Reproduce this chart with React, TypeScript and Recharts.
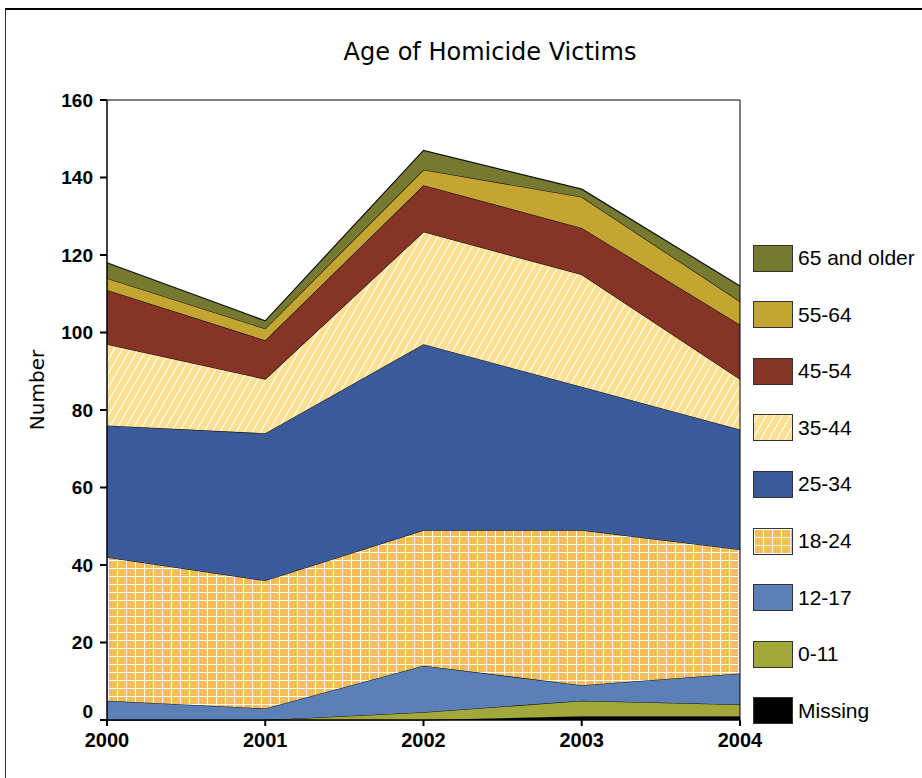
import React from 'react';
import { AreaChart, Area, XAxis, YAxis, ReferenceArea } from 'recharts';

const YEARS = [2000, 2001, 2002, 2003, 2004];

// counts per age group (stacked bottom to top)
const MISSING = [0, 0, 0, 1, 1];
const AGE_0_11 = [0, 0, 2, 4, 3];
const AGE_12_17 = [5, 3, 12, 4, 8];
const AGE_18_24 = [37, 33, 35, 40, 32];
const AGE_25_34 = [34, 38, 48, 37, 31];
const AGE_35_44 = [21, 14, 29, 29, 13];
const AGE_45_54 = [14, 10, 12, 12, 14];
const AGE_55_64 = [3, 3, 4, 8, 6];
const AGE_65_UP = [4, 2, 5, 2, 4];

const Y_TICKS = [0, 20, 40, 60, 80, 100, 120, 140, 160];

const SERIES = [
  { key: 'missing', name: 'Missing', values: MISSING, fill: '#000000' },
  { key: 'a0', name: '0-11', values: AGE_0_11, fill: '#a3a83b' },
  { key: 'a12', name: '12-17', values: AGE_12_17, fill: '#5b80b7' },
  { key: 'a18', name: '18-24', values: AGE_18_24, fill: 'url(#grid)', swatch: 'grid' },
  { key: 'a25', name: '25-34', values: AGE_25_34, fill: '#3a5a9a' },
  { key: 'a35', name: '35-44', values: AGE_35_44, fill: 'url(#hatch)', swatch: 'hatch' },
  { key: 'a45', name: '45-54', values: AGE_45_54, fill: '#873428' },
  { key: 'a55', name: '55-64', values: AGE_55_64, fill: '#c5a531' },
  { key: 'a65', name: '65 and older', values: AGE_65_UP, fill: '#767a30' },
];

const data = YEARS.map((year, i) => {
  const row: Record<string, number> = { year };
  SERIES.forEach(s => { row[s.key] = s.values[i]; });
  return row;
});

const tickFont = { fontFamily: '"Liberation Sans", Arial, sans-serif', fontSize: 19, fontWeight: 'bold', fill: '#000' };
const xTickFont = { ...tickFont, fontSize: 20 };

const YTick = (props: any) => {
  const { x, y, payload } = props;
  const shift = payload.value === 0 ? -9 : 0;
  return (
    <text x={x} y={y + shift} dy="0.36em" textAnchor="end" {...tickFont}>
      {payload.value}
    </text>
  );
};

const swatchStyle = (s: any): React.CSSProperties => {
  if (s.swatch === 'grid') {
    return {
      backgroundColor: '#f2bd58',
      backgroundImage:
        'linear-gradient(to right, #fff 1px, transparent 1px), linear-gradient(to bottom, #fff 1px, transparent 1px)',
      backgroundSize: '9px 8px',
    };
  }
  if (s.swatch === 'hatch') {
    return {
      backgroundColor: '#fbe094',
      backgroundImage:
        'repeating-linear-gradient(-60deg, #fbe094 0px, #fbe094 6px, #fff 6px, #fff 7px)',
    };
  }
  return { backgroundColor: s.fill };
};

export default function App() {
  return (
    <div style={{ position: 'absolute', left: 0, top: 0, width: 922, height: 778, background: '#fff', overflow: 'hidden' }}>
      <div style={{ position: 'absolute', left: 5, top: 8, width: 930, height: 790, borderTop: '2px solid #000', borderLeft: '1px solid #333' }} />
      <div style={{ position: 'absolute', left: 0, width: 980, top: 38, textAlign: 'center', fontFamily: '"DejaVu Sans", sans-serif', fontSize: 24, color: '#000' }}>
        Age of Homicide Victims
      </div>
      <div style={{ position: 'absolute', left: 37, top: 390, transform: 'translate(-50%, -50%) rotate(-90deg)', fontFamily: '"DejaVu Sans", sans-serif', fontSize: 20, color: '#000', whiteSpace: 'nowrap' }}>
        Number
      </div>
      <div style={{ position: 'absolute', left: 0, top: 0 }}>
        <AreaChart width={922} height={778} data={data} margin={{ top: 100, right: 182, bottom: 28, left: 57 }}>
          <defs>
            <pattern id="grid" width="9" height="8" patternUnits="userSpaceOnUse">
              <rect width="9" height="8" fill="#f2bd58" />
              <path d="M0 0.5 H9 M0.5 0 V8" stroke="#fff" strokeWidth="1" />
            </pattern>
            <pattern id="hatch" width="7" height="7" patternUnits="userSpaceOnUse" patternTransform="rotate(30)">
              <rect width="7" height="7" fill="#fbe094" />
              <line x1="0.5" y1="0" x2="0.5" y2="7" stroke="#fff" strokeWidth="1" />
            </pattern>
          </defs>
          <XAxis
            dataKey="year"
            type="number"
            domain={[2000, 2004]}
            ticks={YEARS}
            height={30}
            tickSize={6}
            tickMargin={7}
            tick={xTickFont}
            axisLine={{ stroke: '#000' }}
            tickLine={{ stroke: '#000', strokeWidth: 2 }}
          />
          <YAxis
            domain={[0, 160]}
            ticks={Y_TICKS}
            width={50}
            tickSize={7}
            tickMargin={7}
            tick={<YTick />}
            axisLine={{ stroke: '#000' }}
            tickLine={{ stroke: '#000', strokeWidth: 2 }}
          />
          {SERIES.map(s => (
            <Area
              key={s.key}
              type="linear"
              dataKey={s.key}
              name={s.name}
              stackId="ages"
              fill={s.fill}
              fillOpacity={1}
              stroke="#111"
              strokeWidth={1.2}
              isAnimationActive={false}
            />
          ))}
          <ReferenceArea x1={2000} x2={2004} y1={0} y2={160} fill="none" stroke="#000" strokeWidth={1} ifOverflow="visible" />
        </AreaChart>
      </div>
      <div style={{ position: 'absolute', left: 753, top: 245 }}>
        {[...SERIES].reverse().map((s, i) => (
          <div key={s.key} style={{ position: 'absolute', left: 0, top: i * 56.6, display: 'flex', alignItems: 'center', height: 26, whiteSpace: 'nowrap' }}>
            <div style={{ width: 38, height: 25, border: '1px solid #333', ...swatchStyle(s) }} />
            <span style={{ marginLeft: 5, fontFamily: '"Liberation Sans", Arial, sans-serif', fontSize: 21, color: '#000' }}>{s.name}</span>
          </div>
        ))}
      </div>
    </div>
  );
}
